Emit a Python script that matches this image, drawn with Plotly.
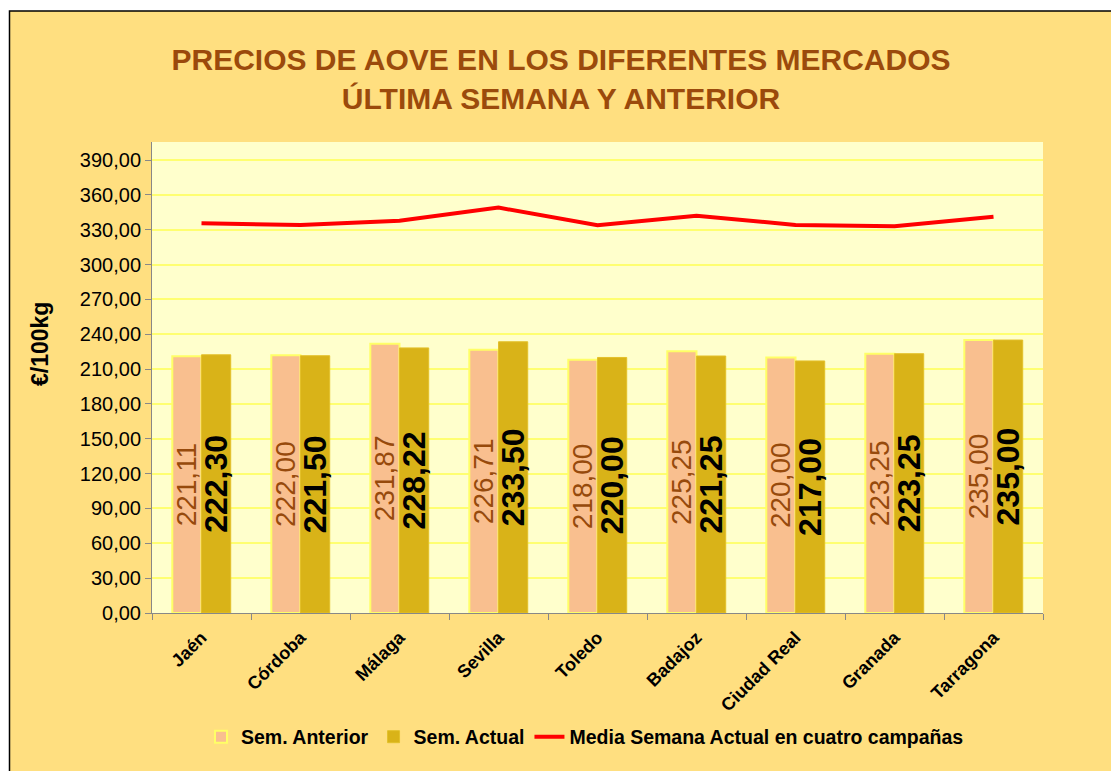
import plotly.graph_objects as go

categories = ["Jaén", "Córdoba", "Málaga", "Sevilla", "Toledo", "Badajoz", "Ciudad Real", "Granada", "Tarragona"]
sem_anterior = [221.11, 222.00, 231.87, 226.71, 218.00, 225.25, 220.00, 223.25, 235.00]
sem_actual = [222.30, 221.50, 228.22, 233.50, 220.00, 221.25, 217.00, 223.25, 235.00]
media_cuatro = [335.5, 334.0, 337.8, 349.0, 333.8, 342.1, 334.0, 332.9, 341.2]
y_ticks = [0, 30, 60, 90, 120, 150, 180, 210, 240, 270, 300, 330, 360, 390]

W, H = 1119, 771
OFF = 8  # page body margin offset
L, R, T, B = 152 - OFF, 1043 - OFF, 142 - OFF, 613 - OFF
pw, ph = R - L, B - T

def px(x):
    return (x - OFF - L) / pw

def py(y):
    return (B - (y - OFF)) / ph

fig = go.Figure()

fig.add_trace(go.Bar(
    x=categories, y=sem_anterior, name="Sem. Anterior",
    marker=dict(color="#F9BF8F", line=dict(color="#FFFF66", width=2)),
    texttemplate="%{y:.2f}", textposition="inside", insidetextanchor="middle",
    textangle=-90, constraintext="none",
    textfont=dict(family="Arial, Liberation Sans", size=28, color="#974A0C"),
))
fig.add_trace(go.Bar(
    x=categories, y=sem_actual, name="Sem. Actual",
    marker=dict(color="#D9B318", line=dict(color="#E3C02A", width=1)),
    texttemplate="%{y:.2f}", textposition="inside", insidetextanchor="middle",
    textangle=-90, constraintext="none",
    textfont=dict(family="Arial, Liberation Sans", size=32, color="black", weight="bold"),
))
fig.add_trace(go.Scatter(
    x=categories, y=media_cuatro, name="Media Semana Actual en cuatro campañas",
    mode="lines", line=dict(color="#FF0000", width=4),
))

fig.update_layout(
    width=W, height=H,
    margin=dict(l=L, r=W - R, t=T, b=H - B, autoexpand=False),
    paper_bgcolor="white",
    plot_bgcolor="#FFFFCC",
    separators=",.",
    barmode="group", bargap=0.41, bargroupgap=0.0,
    font=dict(family="Arial, Liberation Sans", color="black"),
    title=dict(
        text="PRECIOS DE AOVE EN LOS DIFERENTES MERCADOS<br>ÚLTIMA SEMANA Y ANTERIOR",
        x=(561 - OFF) / W, xref="container", xanchor="center",
        y=1 - (71 - OFF - 1) / H, yref="container", yanchor="middle",
        font=dict(family="Arial, Liberation Sans", size=30, color="#9B4A0C", weight="bold"),
    ),
    xaxis=dict(
        type="category", tickangle=-45, tickson="boundaries",
        ticks="outside", ticklen=6, tickcolor="#888888",
        showline=True, linecolor="#888888", linewidth=1,
        showgrid=False, ticklabelstandoff=6,
        tickfont=dict(size=18, weight="bold", color="black"),
    ),
    yaxis=dict(
        range=[0, 405.5], tickvals=y_ticks, tickformat=".2f",
        ticks="outside", ticklen=6, tickcolor="#888888",
        showline=True, linecolor="#888888", linewidth=1,
        showgrid=True, gridcolor="#FFFF70", gridwidth=1.5,
        zeroline=False,
        tickfont=dict(size=20, color="black"),
    ),
    legend=dict(
        orientation="h", x=px(585), xanchor="center", y=py(737), yanchor="middle",
        font=dict(size=19.5, weight="bold", color="black"),
        bgcolor="rgba(0,0,0,0)", traceorder="normal",
        itemwidth=30,
    ),
    showlegend=True,
)

fig.add_shape(type="rect", xref="paper", yref="paper",
              x0=px(9.5), x1=px(1250), y0=py(900), y1=py(11),
              fillcolor="#FFDF80", line=dict(color="black", width=1.5), layer="below")
fig.add_shape(type="rect", xref="paper", yref="paper",
              x0=0, x1=1, y0=0, y1=1,
              fillcolor="#FFFFCC", line=dict(width=0), layer="below")

fig.add_annotation(text="€/100kg", xref="paper", yref="paper",
                   x=px(40), y=py(344), textangle=-90, showarrow=False,
                   xanchor="center", yanchor="middle",
                   font=dict(size=23, weight="bold", color="black"))

fig.write_html("out.html")
